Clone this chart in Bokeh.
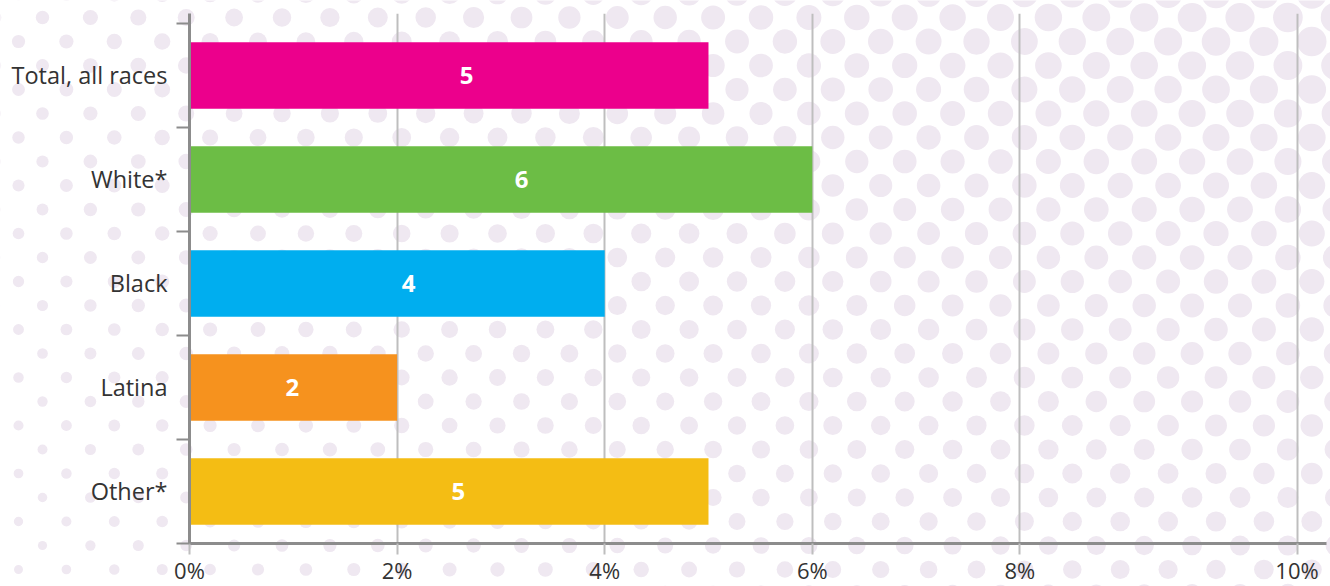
import numpy as np
from jinja2 import Template
from bokeh.plotting import figure
from bokeh.models import Range1d, FixedTicker, ColumnDataSource
from bokeh.core.properties import value
from bokeh.embed import file_html
from bokeh.resources import INLINE

# ---------------- data ----------------
categories = ["Total, all races", "White*", "Black", "Latina", "Other*"]
values = [5, 6, 4, 2, 5]
bar_colors = ["#EC008C", "#6CBD45", "#00AEEF", "#F6921E", "#F4BD14"]
# where the value labels sit along the axis in the reference (in % units)
label_pos = [2.67, 3.2, 2.11, 0.99, 2.59]
# tick positions as they appear on the reference axis (last one is drawn further out)
x_ticks = [0, 2, 4, 6, 8, 10.67]
x_tick_labels = ["0%", "2%", "4%", "6%", "8%", "10%"]

FONT = "Open Sans"
TEXT_COLOR = "#333333"
AXIS_COLOR = "#8C8C8C"
GRID_COLOR = "#BEBEBE"
DOT_COLOR = "#EFE8F1"
W, H = 1330, 586

# ---------------- decorative dotted background ----------------
bg = figure(name="bg", width=W, height=H, x_range=Range1d(0, W), y_range=Range1d(H, 0),
            output_backend="svg", toolbar_location=None, min_border=0,
            background_fill_color="white", border_fill_color="white",
            outline_line_color=None)
bg.axis.visible = False
bg.grid.visible = False
dx, dy = 47.9, 24.0
dot_x, dot_y, dot_r = [], [], []
for k in range(27):
    yy = -7 + dy * k
    x0 = 18 if k % 2 == 0 else 42
    xx = x0 - dx
    while xx < W + dx:
        t = min(max((xx - 42) / 1173.0, 0.0), 1.25)
        r = (6.7 + 7.8 * t ** 0.7) * (1 - 0.0006 * (yy - 17))
        dot_x.append(xx)
        dot_y.append(yy)
        dot_r.append(max(r, 2.5))
        xx += dx
bg.circle(x=dot_x, y=dot_y, radius=dot_r, fill_color=DOT_COLOR, line_color=None)

# ---------------- chart ----------------
n = len(categories)
ypos = [n - 1 - i for i in range(n)]
src = ColumnDataSource(dict(
    y=ypos, v=values, c=bar_colors, lx=label_pos,
    lab=[str(v) for v in values],
))

p = figure(name="fg", frame_width=1137, frame_height=530,
           x_range=Range1d(0, 10.954), y_range=Range1d(-0.5, n - 0.5 + 0.096),
           output_backend="svg", toolbar_location=None,
           min_border_left=189, min_border_right=4, min_border_top=13, min_border_bottom=43,
           background_fill_color=None, border_fill_color=None, outline_line_color=None)

p.hbar(y="y", left=0, right="v", height=0.64, fill_color="c", line_color=None, source=src)
p.text(x="lx", y="y", text="lab", text_align="center", text_baseline="middle",
       text_color="white", text_font=value(FONT), text_font_style="bold",
       text_font_size="24px", source=src)

# grid
p.ygrid.visible = False
p.xgrid.ticker = FixedTicker(ticks=x_ticks[1:])
p.xgrid.grid_line_color = GRID_COLOR
p.xgrid.grid_line_width = 2

# x axis
xa = p.xaxis[0]
xa.ticker = FixedTicker(ticks=x_ticks)
xa.major_label_overrides = {t: l for t, l in zip(x_ticks, x_tick_labels)}
xa.axis_line_color = AXIS_COLOR
xa.axis_line_width = 3
xa.major_tick_line_color = GRID_COLOR
xa.major_tick_line_width = 2
xa.major_tick_in = 0
xa.major_tick_out = 11
xa.minor_tick_line_color = None
xa.major_label_standoff = 0
xa.major_label_text_font = FONT
xa.major_label_text_font_size = "22px"
xa.major_label_text_color = TEXT_COLOR

# y axis
ya = p.yaxis[0]
ya.ticker = FixedTicker(ticks=ypos, minor_ticks=[y - 0.5 for y in range(n + 1)])
ya.major_label_overrides = {y: c for y, c in zip(ypos, categories)}
ya.axis_line_color = AXIS_COLOR
ya.axis_line_width = 3
ya.major_tick_line_color = None
ya.major_tick_in = 0
ya.major_tick_out = 0
ya.minor_tick_line_color = AXIS_COLOR
ya.minor_tick_line_width = 2
ya.minor_tick_in = 0
ya.minor_tick_out = 13
ya.major_label_standoff = 9
ya.major_label_text_font = FONT
ya.major_label_text_font_size = "23.5px"
ya.major_label_text_color = TEXT_COLOR

TEMPLATE = Template("""{% from macros import embed %}
<!DOCTYPE html>
<html lang="en">
<head>
<meta charset="utf-8">
<title>{{ title if title else "chart" }}</title>
{{ bokeh_css if bokeh_css }}
{{ bokeh_js if bokeh_js }}
<style>
html, body { margin: 0; padding: 0; background: #ffffff; overflow: hidden; }
.stack { position: relative; width: 1330px; height: 586px; overflow: hidden; }
.layer { position: absolute; left: 0; top: 0; }
</style>
</head>
<body>
<div class="stack">
<div class="layer">{{ embed(roots.bg) }}</div>
<div class="layer">{{ embed(roots.fg) }}</div>
</div>
{{ plot_script }}
</body>
</html>
""")

open("out.html", "w").write(file_html([bg, p], INLINE, title="chart", template=TEMPLATE))
